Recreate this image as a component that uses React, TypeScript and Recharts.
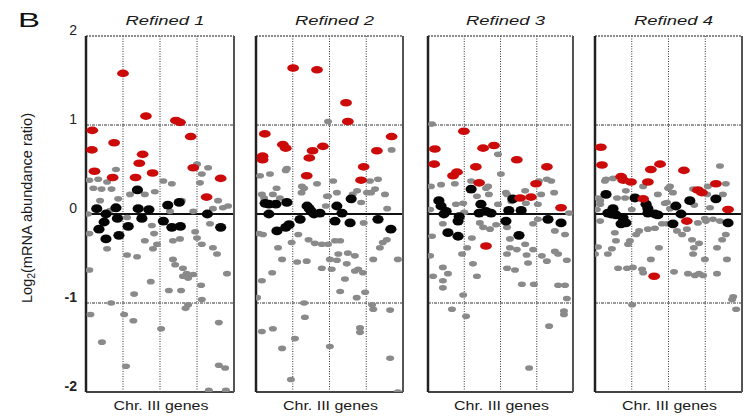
import React from "react";
import { ScatterChart, Scatter, XAxis, YAxis, ReferenceLine } from "recharts";

type Pt = [number, number];

const panelTitles = ["Refined 1", "Refined 2", "Refined 3", "Refined 4"];
const xAxisLabel = "Chr. III genes";
const yTicks = [-2, -1, 0, 1, 2];

const p1Red: Pt[] = [[0.17,0.94],[1.0,1.58],[1.62,1.10],[2.43,1.05],[2.54,1.03],[2.83,0.87],[0.76,0.80],[0.16,0.72],[1.53,0.67],[1.44,0.57],[0.23,0.48],[0.72,0.41],[1.34,0.41],[1.80,0.46],[2.90,0.52],[3.64,0.40],[3.26,0.19]];
const p1Black: Pt[] = [[0.29,0.06],[0.54,0.0],[0.81,0.07],[0.85,-0.05],[0.49,-0.09],[0.35,-0.17],[0.54,-0.28],[0.89,-0.24],[1.14,-0.14],[1.39,0.27],[1.41,0.06],[1.51,-0.05],[1.70,0.05],[2.09,-0.08],[2.21,0.10],[2.52,0.13],[2.32,-0.15],[2.55,-0.14],[3.28,0.0],[3.64,-0.15]];
const p1Gray: Pt[] = [[0.09,0.38],[0.33,0.39],[0.81,0.50],[0.57,0.36],[0.20,0.29],[0.42,0.28],[0.69,0.28],[0.38,0.15],[0.87,0.17],[1.59,0.22],[1.19,0.22],[1.86,0.25],[2.09,0.37],[2.32,0.34],[2.59,0.15],[3.0,0.56],[3.13,0.45],[3.30,0.52],[3.08,0.35],[3.57,0.15],[3.43,0.06],[3.70,0.07],[3.84,0.09],[2.90,0.03],[2.27,0.03],[1.11,-0.04],[0.05,0.0],[0.65,0.04],
[0.09,-0.22],[0.57,-0.39],[1.11,-0.46],[1.38,-0.48],[1.59,-0.30],[1.81,-0.39],[1.92,-0.34],[1.84,-0.22],[1.78,-0.13],[2.35,-0.51],[2.41,-0.57],[2.54,-0.28],[2.62,-0.61],[2.72,-0.67],[2.95,-0.20],[3.13,-0.34],[3.43,-0.38],[3.54,-0.45],[3.35,-0.11],[3.81,-0.67],[0.09,-0.63],[1.30,-0.90],[1.75,-0.76],[2.24,-0.86],[2.57,-0.86],[2.62,-0.70],[2.76,-0.72],[2.90,-0.68],[3.11,-0.80],[3.13,-0.96],[0.68,-1.0],[0.12,-1.13],[1.03,-1.13],[1.28,-1.20],[2.03,-1.29],[2.69,-1.06],[2.76,-1.02],[3.59,-1.22],[0.43,-1.44],[1.08,-1.71],[3.59,-1.70],[3.76,-1.73],[3.32,-1.98],[3.78,-1.98],[2.35,-0.30],[3.0,-0.27]];

const p2Red: Pt[] = [[1.01,1.64],[1.66,1.62],[2.45,1.25],[2.50,1.04],[0.24,0.90],[0.73,0.78],[0.81,0.74],[1.54,0.71],[1.82,0.76],[3.69,0.87],[3.29,0.71],[0.18,0.65],[0.18,0.61],[1.45,0.63],[2.93,0.53],[1.38,0.43],[2.86,0.38]];
const p2Black: Pt[] = [[0.35,0.11],[0.54,0.11],[0.84,0.13],[1.39,0.09],[1.50,0.03],[1.58,0.0],[1.74,0.01],[2.20,0.09],[2.34,0.01],[2.59,0.17],[0.35,0.0],[1.20,-0.06],[0.90,-0.12],[0.81,-0.15],[0.57,-0.19],[2.15,-0.08],[2.56,-0.10],[3.32,-0.06],[3.67,-0.17],[0.25,0.12],[1.45,0.06]];
const p2Gray: Pt[] = [[1.96,1.04],[3.69,0.72],[0.11,0.43],[0.38,0.45],[0.81,0.49],[1.25,0.31],[1.66,0.34],[2.10,0.37],[1.24,0.24],[0.46,0.22],[0.65,0.18],[3.10,0.37],[3.32,0.39],[3.02,0.24],[3.24,0.28],[3.51,0.22],[2.20,0.24],[1.96,0.20],[2.75,0.26],[0.16,0.22],[0.56,0.29],[1.31,0.29],[1.93,0.20],[3.13,0.24],[3.57,0.06],[2.93,-0.10],[0.84,0.51],[1.90,0.09],[2.86,0.13],[0.22,0.18],[2.63,0.22],
[0.19,-0.23],[0.08,-0.22],[0.60,-0.38],[0.71,-0.51],[0.97,-0.32],[1.15,-0.23],[1.12,-0.54],[1.38,-0.53],[1.43,-0.29],[1.60,-0.33],[1.79,-0.34],[1.96,-0.34],[2.15,-0.30],[2.29,-0.30],[2.24,-0.45],[2.50,-0.44],[2.69,-0.47],[2.01,-0.51],[2.20,-0.52],[1.79,-0.61],[2.06,-0.62],[2.47,-0.56],[2.69,-0.64],[2.78,-0.62],[2.91,-0.66],[2.42,-0.73],[3.19,-0.51],[3.86,-0.51],[3.37,-0.38],[3.45,-0.32],[3.56,-0.29],[0.44,-0.66],[0.16,-0.75],[2.29,-0.87],[2.74,-0.94],[2.97,-0.88],[0.03,-0.94],[1.31,-1.0],[3.16,-1.02],[3.19,-1.07],[3.65,-1.08],[1.33,-1.16],[0.16,-1.32],[0.46,-1.29],[1.06,-1.40],[2.83,-1.28],[2.83,-1.33],[0.71,-1.51],[2.01,-1.49],[3.65,-1.62],[0.95,-1.86],[3.86,-2.0]];

const p3Red: Pt[] = [[0.99,0.93],[0.19,0.73],[1.52,0.74],[1.82,0.77],[0.17,0.56],[2.45,0.61],[1.32,0.53],[3.28,0.53],[0.80,0.47],[0.69,0.43],[1.41,0.35],[2.98,0.34],[2.54,0.18],[2.84,0.19],[3.67,0.07],[1.60,-0.36]];
const p3Black: Pt[] = [[0.30,0.15],[0.36,0.09],[0.50,0.03],[0.86,-0.03],[0.83,-0.08],[1.19,0.28],[1.46,0.11],[1.41,0.01],[1.74,0.01],[2.15,-0.08],[2.23,0.04],[2.57,0.04],[2.34,0.17],[3.31,-0.06],[3.67,-0.10],[0.55,-0.21],[0.83,-0.25],[2.51,-0.24],[0.44,0.0],[1.60,0.03]];
const p3Gray: Pt[] = [[0.11,1.01],[0.08,0.31],[0.36,0.33],[1.19,0.37],[1.60,0.29],[2.01,0.45],[1.68,0.22],[0.77,0.11],[0.97,0.12],[1.93,0.11],[2.15,0.24],[3.06,0.37],[3.40,0.37],[3.48,0.24],[3.12,0.22],[2.70,0.12],[3.03,0.11],[3.89,0.01],[0.74,0.34],[1.66,0.31],[1.93,0.67],[3.28,0.39],[2.18,0.22],[2.68,0.26],[0.06,0.05],[2.30,0.14],[1.00,0.02],[1.35,0.20],
[0.41,-0.11],[0.11,-0.25],[0.06,-0.47],[0.41,-0.60],[0.55,-0.67],[0.14,-0.70],[0.41,-0.75],[0.41,-0.83],[0.94,-0.45],[1.08,-0.38],[1.21,-0.27],[1.43,-0.10],[1.52,-0.15],[1.71,-0.17],[1.88,-0.12],[1.24,-0.56],[1.35,-0.70],[0.97,-0.91],[0.66,-1.07],[1.05,-1.15],[2.18,-0.45],[2.26,-0.38],[2.45,-0.40],[2.68,-0.34],[2.72,-0.46],[2.76,-0.55],[2.90,-0.40],[3.14,-0.47],[3.28,-0.53],[3.50,-0.42],[3.59,-0.45],[3.83,-0.52],[3.78,-0.23],[3.50,-0.19],[2.18,-0.61],[2.40,-0.63],[2.59,-0.79],[2.92,-0.79],[3.59,-0.80],[3.78,-0.80],[3.83,-0.95],[3.75,-1.09],[3.75,-1.13],[3.34,-1.26],[2.79,-1.73],[2.26,-0.28],[2.18,-0.15],[2.90,-0.11],[3.03,-0.06]];

const p4Red: Pt[] = [[0.16,0.75],[0.19,0.55],[0.71,0.42],[0.77,0.38],[0.98,0.36],[1.52,0.50],[1.77,0.56],[1.44,0.36],[2.42,0.49],[3.29,0.34],[2.80,0.27],[2.91,0.24],[1.31,0.17],[3.62,0.05],[2.50,-0.08],[1.61,-0.70]];
const p4Black: Pt[] = [[0.30,0.22],[0.49,0.06],[0.35,0.01],[0.57,-0.01],[0.76,-0.04],[0.84,-0.10],[0.71,-0.11],[1.09,0.18],[1.39,0.11],[1.44,0.06],[1.63,0.0],[1.71,-0.01],[2.12,-0.11],[2.20,0.09],[2.34,0.0],[2.58,0.15],[3.29,0.17],[3.62,-0.10],[0.44,0.0],[1.44,0.01]];
const p4Gray: Pt[] = [[0.30,0.39],[0.49,0.40],[0.08,0.18],[0.14,0.11],[0.84,0.26],[0.82,0.18],[1.31,0.31],[1.71,0.22],[1.99,0.29],[2.12,0.24],[1.90,0.12],[2.04,0.06],[2.67,0.28],[3.07,0.31],[3.40,0.54],[3.56,0.34],[3.48,0.22],[3.13,0.07],[2.99,-0.05],[0.27,0.37],[2.04,0.31],[3.05,0.22],[0.14,0.15],[0.60,0.18],[1.96,0.13],[0.05,0.05],[1.00,0.05],[2.70,0.10],
[0.14,-0.08],[0.08,-0.37],[0.0,-0.45],[0.35,-0.45],[0.46,-0.39],[0.54,-0.21],[0.57,-0.30],[0.90,-0.34],[0.95,-0.30],[1.12,-0.23],[0.63,-0.61],[0.87,-0.61],[1.03,-0.60],[1.28,-0.62],[1.31,-0.66],[1.52,-0.51],[1.74,-0.38],[1.20,-0.19],[1.44,-0.17],[1.63,-0.16],[1.82,-0.11],[1.96,-0.11],[2.23,-0.19],[2.37,-0.23],[2.50,-0.17],[2.64,-0.29],[2.69,-0.38],[2.83,-0.33],[2.99,-0.51],[3.32,-0.38],[3.46,-0.29],[3.56,-0.23],[3.59,-0.51],[3.32,-0.67],[2.67,-0.45],[2.15,-0.65],[2.53,-0.67],[2.72,-0.69],[2.83,-0.67],[2.94,-0.69],[3.76,-0.93],[3.73,-0.96],[3.84,-1.07],[1.01,-1.02],[2.80,-0.10],[3.02,-0.08],[3.21,-0.06],[3.40,-0.08]];

const panels = [
  { title: panelTitles[0], left: 86, right: 234, red: p1Red, black: p1Black, gray: p1Gray },
  { title: panelTitles[1], left: 256, right: 403, red: p2Red, black: p2Black, gray: p2Gray },
  { title: panelTitles[2], left: 428, right: 573, red: p3Red, black: p3Black, gray: p3Gray },
  { title: panelTitles[3], left: 595, right: 742, red: p4Red, black: p4Black, gray: p4Gray },
];

const PLOT_TOP = 36;
const PLOT_BOTTOM = 392;
const H = 417;
const PAD = 3;

const toObj = (a: Pt[]) => a.map(([x, y]) => ({ x, y }));

const ellipse = (rx: number, ry: number, fill: string) => (p: any) => (
  <ellipse cx={p.cx} cy={p.cy} rx={rx} ry={ry} fill={fill} />
);

const YTick = (props: any) => {
  const v = props.payload.value;
  return (
    <text x={props.x} y={props.y - 1} textAnchor="end" fontSize={14} fill="#222"
      fontWeight={v < 0 ? "bold" : "normal"}
      fontFamily="Liberation Sans, Arial, sans-serif">
      {String(v)}
    </text>
  );
};

function Panel({ idx }: { idx: number }) {
  const p = panels[idx];
  const first = idx === 0;
  const plotW = p.right - p.left;
  const chartLeft = first ? 0 : p.left - PAD;
  const chartW = first ? p.right + PAD : plotW + 2 * PAD;
  return (
    <div style={{ position: "absolute", left: chartLeft, top: 0 }}>
      <ScatterChart width={chartW} height={H}
        margin={{ top: PLOT_TOP, bottom: H - PLOT_BOTTOM, left: first ? 0 : PAD, right: PAD }}>
        <XAxis type="number" dataKey="x" domain={[0, 4]} hide allowDataOverflow />
        <YAxis type="number" dataKey="y" domain={[-2, 2]} ticks={yTicks} hide={!first}
          width={86} axisLine={false} tickLine={false} tickSize={0} tickMargin={9}
          tick={<YTick />} interval={0} allowDataOverflow />
        <ReferenceLine x={1} stroke="#333" strokeDasharray="1 1.5" strokeWidth={1} />
        <ReferenceLine x={2} stroke="#333" strokeDasharray="1 1.5" strokeWidth={1} />
        <ReferenceLine x={3} stroke="#333" strokeDasharray="1 1.5" strokeWidth={1} />
        <ReferenceLine y={1} stroke="#333" strokeDasharray="3 1 1 1" strokeWidth={1} />
        <ReferenceLine y={-1} stroke="#333" strokeDasharray="3 1 1 1" strokeWidth={1} />
        <ReferenceLine y={0} stroke="#111" strokeWidth={2} />
        <ReferenceLine y={2} stroke="#666" strokeWidth={1.5} strokeDasharray="2 1" />
        <ReferenceLine y={-2} stroke="#444" strokeWidth={2} />
        <ReferenceLine x={0} stroke="#222" strokeWidth={2.5} />
        <ReferenceLine x={4} stroke="#555" strokeWidth={2} />
        <Scatter data={toObj(p.gray)} isAnimationActive={false} shape={ellipse(4, 2.8, "#8a8a8a")} />
        <Scatter data={toObj(p.black)} isAnimationActive={false} shape={ellipse(5.6, 4.4, "#050505")} />
        <Scatter data={toObj(p.red)} isAnimationActive={false} shape={ellipse(5.9, 3.8, "#cc0a0a")} />
      </ScatterChart>
    </div>
  );
}

export default function App() {
  const font = "Liberation Sans, Arial, sans-serif";
  return (
    <div style={{ position: "absolute", left: 0, top: 0, width: 749, height: H, background: "#fff", overflow: "hidden" }}>
      {panels.map((_, i) => <Panel key={i} idx={i} />)}
      <svg width={749} height={H} style={{ position: "absolute", left: 0, top: 0, pointerEvents: "none" }}>
        <text x={18} y={27} fontSize={21} fontFamily={font} fill="#111" textLength={22} lengthAdjust="spacingAndGlyphs">B</text>
        {panels.map((p, i) => (
          <text key={"t" + i} x={(p.left + p.right) / 2 + 5} y={24.5} fontSize={13} fontStyle="italic"
            fontFamily={font} fill="#1a1a1a" textAnchor="middle" textLength={79} lengthAdjust="spacingAndGlyphs">
            {p.title}
          </text>
        ))}
        {panels.map((p, i) => (
          <text key={"x" + i} x={(p.left + p.right) / 2 + 1} y={410} fontSize={12.5}
            fontFamily={font} fill="#1a1a1a" textAnchor="middle" textLength={95} lengthAdjust="spacingAndGlyphs">
            {xAxisLabel}
          </text>
        ))}
        <text x={32} y={208} transform="rotate(-90 32 208)" fontSize={14} fontFamily={font} fill="#1a1a1a"
          textAnchor="middle" textLength={190} lengthAdjust="spacingAndGlyphs">
          Log<tspan fontSize={10} dy={3}>2</tspan><tspan dy={-3}>(mRNA abundance ratio)</tspan>
        </text>
      </svg>
    </div>
  );
}
